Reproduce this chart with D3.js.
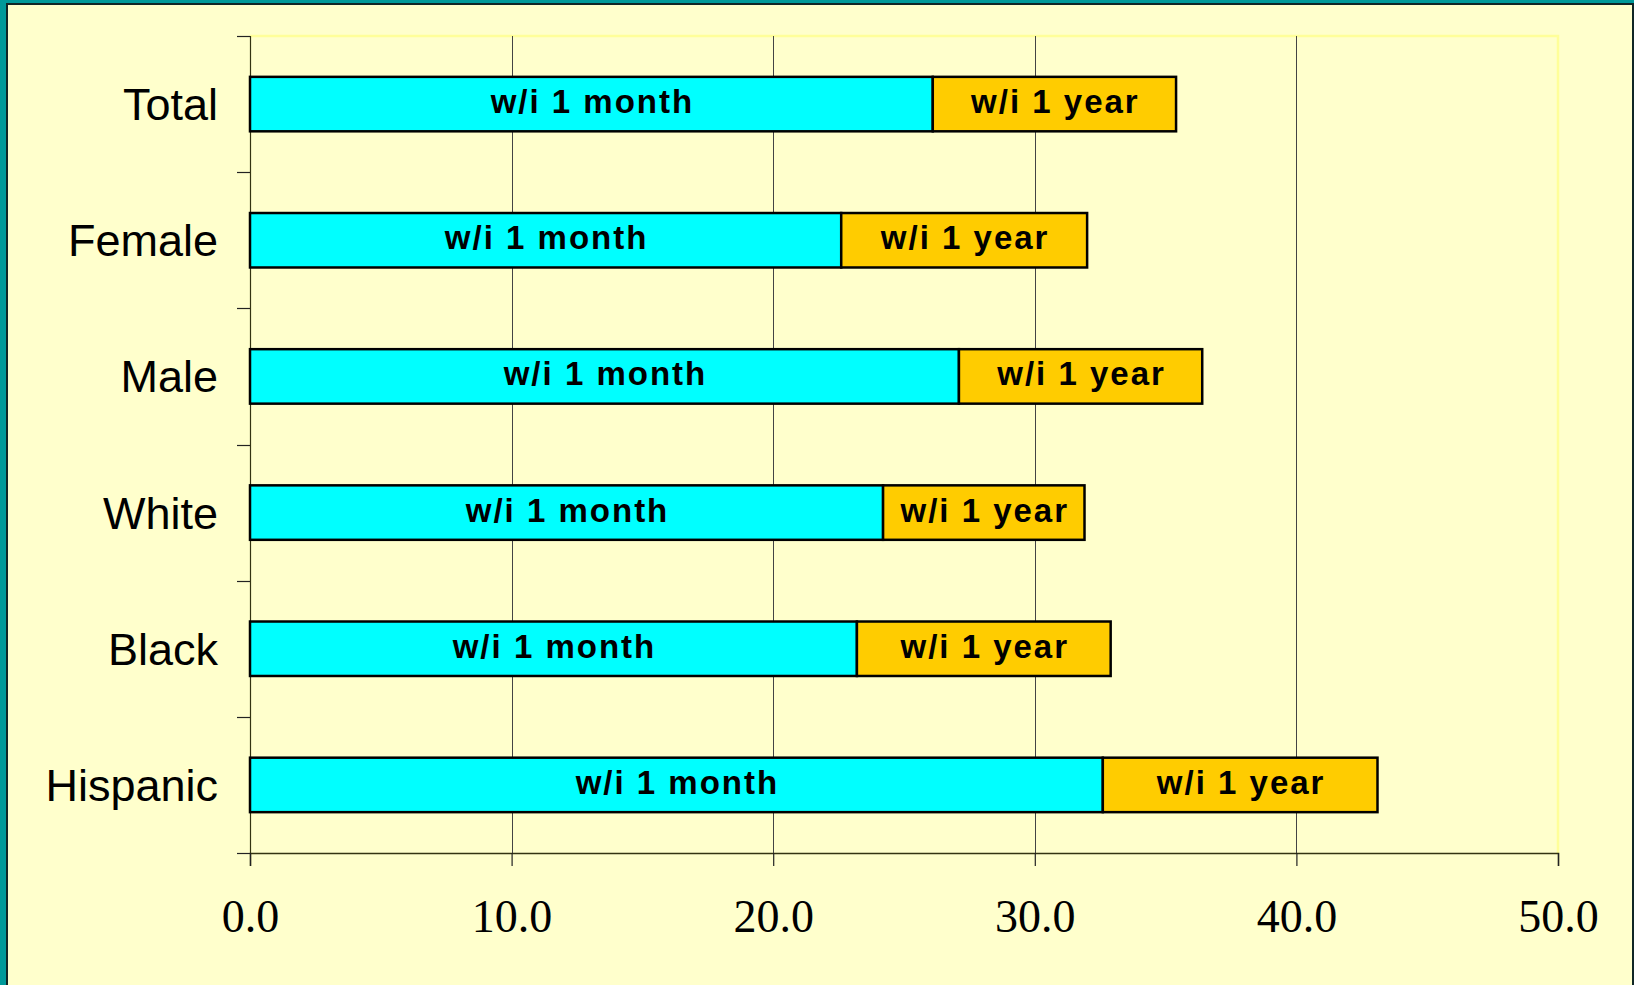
<!DOCTYPE html>
<html>
<head>
<meta charset="utf-8">
<script src="https://cdn.jsdelivr.net/npm/d3@7"></script>
<style>
  html, body { margin: 0; padding: 0; background: #009999; }
  svg { display: block; }
</style>
</head>
<body>
<svg id="chart" width="1634" height="985"></svg>
<script>
const categories = ["Total", "Female", "Male", "White", "Black", "Hispanic"];
const withinMonth = [26.1, 22.6, 27.1, 24.2, 23.2, 32.6];
const withinYear = [9.3, 9.4, 9.3, 7.7, 9.7, 10.5];
const seriesLabels = ["w/i 1 month", "w/i 1 year"];
const xTicks = [0, 10, 20, 30, 40, 50];

const svg = d3.select("#chart");
const W = 1634, H = 985;
const plot = { left: 250, right: 1558, top: 36, bottom: 853 };

// frame
svg.append("rect").attr("x", 0).attr("y", 0).attr("width", W).attr("height", H).attr("fill", "#009999");
svg.append("rect").attr("x", 7).attr("y", 4).attr("width", W - 8).attr("height", H + 10)
  .attr("fill", "#FFFFCC").attr("stroke", "#102626").attr("stroke-width", 2);

const x = d3.scaleLinear().domain([0, 50]).range([plot.left, plot.right]);
const y = d3.scaleBand().domain(categories).range([plot.top, plot.bottom])
  .paddingInner(0.6).paddingOuter(0.3);

// plot border (yellow, top & right)
svg.append("path")
  .attr("d", `M${plot.left},${plot.top}H${plot.right}V${plot.bottom}`)
  .attr("fill", "none").attr("stroke", "#FFFF99").attr("stroke-width", 2.5);

// gridlines
svg.append("g").selectAll("line").data(xTicks.filter(t => t > 0 && t < 50)).join("line")
  .attr("x1", d => Math.round(x(d)) + 0.5).attr("x2", d => Math.round(x(d)) + 0.5)
  .attr("y1", plot.top).attr("y2", plot.bottom)
  .attr("stroke", "#444").attr("stroke-width", 1);

// bottom axis
const xAxis = d3.axisBottom(x).tickValues(xTicks).tickFormat(d3.format(".1f")).tickSize(13).tickPadding(33);
const gx = svg.append("g").attr("transform", `translate(0,${plot.bottom})`).call(xAxis);
gx.select(".domain").attr("stroke", "#333311").attr("stroke-width", 1.5);
gx.selectAll(".tick line").attr("stroke", "#222").attr("stroke-width", 1.2);
gx.selectAll(".tick text")
  .attr("font-family", "'Liberation Serif', 'Times New Roman', serif")
  .attr("font-size", 46).attr("fill", "#000");

// left axis line + ticks at band boundaries
svg.append("line").attr("x1", plot.left + 0.5).attr("x2", plot.left + 0.5)
  .attr("y1", plot.top).attr("y2", plot.bottom)
  .attr("stroke", "#333311").attr("stroke-width", 1.2);
const step = y.step();
const bounds = d3.range(categories.length + 1).map(i => plot.top + i * step);
svg.append("g").selectAll("line").data(bounds).join("line")
  .attr("x1", plot.left - 13).attr("x2", plot.left)
  .attr("y1", d => Math.round(d) + 0.5).attr("y2", d => Math.round(d) + 0.5)
  .attr("stroke", "#222").attr("stroke-width", 1.2);

// category labels
svg.append("g").selectAll("text").data(categories).join("text")
  .attr("x", 218).attr("y", d => plot.top + categories.indexOf(d) * step + step / 2 + 16)
  .attr("text-anchor", "end")
  .attr("font-family", "'Liberation Sans', Arial, sans-serif")
  .attr("font-size", 45).attr("fill", "#000")
  .text(d => d);

// bars
const rows = categories.map((c, i) => ({ cat: c, m: withinMonth[i], yr: withinYear[i] }));
const g = svg.append("g");
rows.forEach(r => {
  const segs = [
    { x0: 0, x1: r.m, color: "#00FFFF", label: seriesLabels[0] },
    { x0: r.m, x1: r.m + r.yr, color: "#FFCC00", label: seriesLabels[1] }
  ];
  segs.forEach(s => {
    g.append("rect")
      .attr("x", x(s.x0)).attr("y", y(r.cat))
      .attr("width", x(s.x1) - x(s.x0)).attr("height", y.bandwidth())
      .attr("fill", s.color).attr("stroke", "#000").attr("stroke-width", 2.5);
  });
  segs.forEach(s => {
    g.append("text")
      .attr("x", (x(s.x0) + x(s.x1)) / 2 + 1)
      .attr("y", y(r.cat) + y.bandwidth() / 2 + 9)
      .attr("text-anchor", "middle")
      .attr("font-family", "'Liberation Sans', Arial, sans-serif")
      .attr("font-weight", "bold").attr("font-size", 33)
      .attr("letter-spacing", "2px").attr("fill", "#000")
      .text(s.label);
  });
});
</script>
</body>
</html>
